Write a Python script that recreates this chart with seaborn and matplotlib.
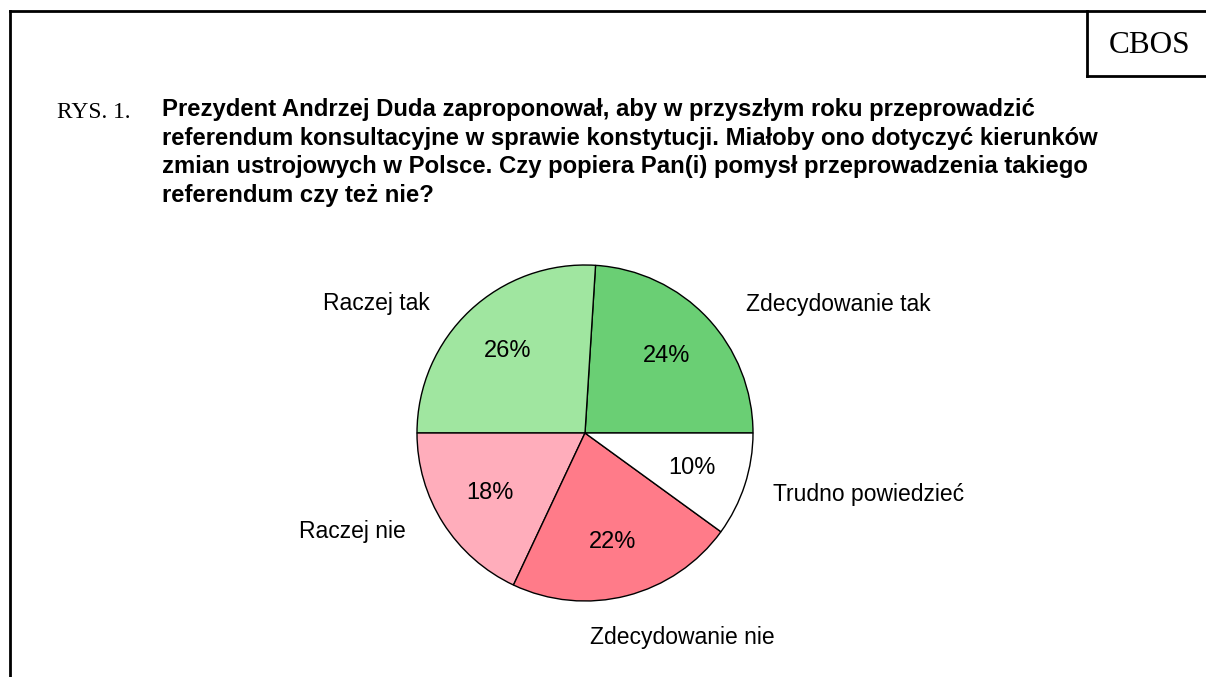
import matplotlib
matplotlib.use("Agg")
import matplotlib.pyplot as plt
import seaborn as sns

sns.set_theme(style="white")

# dane z wykresu
kategorie = ["Zdecydowanie tak", "Raczej tak", "Raczej nie", "Zdecydowanie nie", "Trudno powiedzieć"]
wartosci = [24, 26, 18, 22, 10]
kolory = ["#6ACF74", "#A0E6A0", "#FFADBB", "#FF7B89", "#FFFFFF"]
# polozenie etykiet wzgledem srodka kola (w promieniach)
etykiety_xy = [(1.506, 0.762), (-1.244, 0.768), (-1.387, -0.589), (0.577, -1.22), (1.69, -0.369)]

tytul = ("Prezydent Andrzej Duda zaproponował, aby w przyszłym roku przeprowadzić\n"
         "referendum konsultacyjne w sprawie konstytucji. Miałoby ono dotyczyć kierunków\n"
         "zmian ustrojowych w Polsce. Czy popiera Pan(i) pomysł przeprowadzenia takiego\n"
         "referendum czy też nie?")

W, H = 1206, 677
fig = plt.figure(figsize=(W / 100, H / 100), dpi=100)
ax = fig.add_axes([0, 0, 1, 1])

cx, cy, r = 585, H - 433, 168
wedges, texts, autotexts = ax.pie(
    wartosci, colors=kolory, startangle=0, counterclock=True,
    center=(cx, cy), radius=r, autopct="%d%%", pctdistance=0.67,
    wedgeprops=dict(edgecolor="black", linewidth=1.0),
    textprops=dict(fontsize=17, family="Liberation Sans", color="black"),
)
for i, lab in enumerate(kategorie):
    dx, dy = etykiety_xy[i]
    ax.text(cx + dx * r, cy + dy * r, lab, ha="center", va="center",
            fontsize=16.5, family="Liberation Sans", color="black")

ax.set_xlim(0, W)
ax.set_ylim(0, H)
ax.set_aspect("equal")
ax.axis("off")

# ramka
lw = 2.0
ax.plot([10, 10], [0, H - 11], color="black", lw=lw, solid_capstyle="projecting")
ax.plot([10, W], [H - 11, H - 11], color="black", lw=lw, solid_capstyle="projecting")
ax.plot([1087, 1087], [H - 11, H - 76], color="black", lw=lw, solid_capstyle="projecting")
ax.plot([1087, W], [H - 76, H - 76], color="black", lw=lw, solid_capstyle="projecting")
ax.text(1150, H - 53, "CBOS", ha="center", va="baseline", fontsize=22.5,
        family="Liberation Serif", color="black")

ax.text(57, H - 118, "RYS. 1.", ha="left", va="baseline", fontsize=16.8,
        family="Liberation Serif", color="black")
ax.text(162, H - 98, tytul, ha="left", va="top", fontsize=17.2,
        family="Liberation Sans", fontweight="bold",
        color="black", linespacing=1.31)

fig.savefig("out.png", dpi=100)
